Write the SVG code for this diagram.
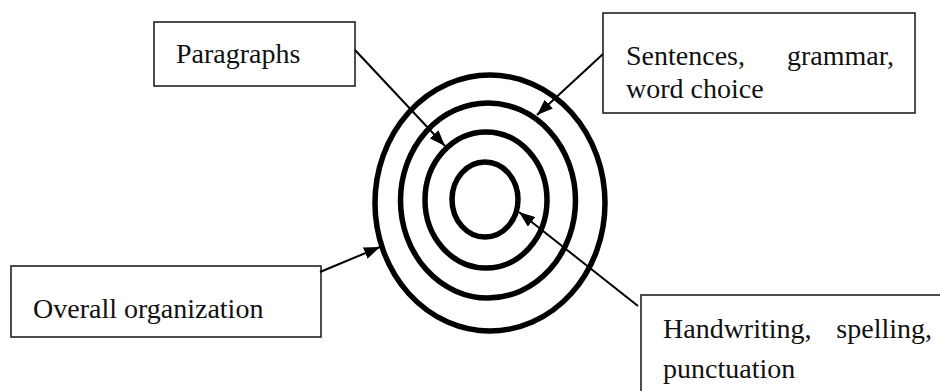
<svg xmlns="http://www.w3.org/2000/svg" width="940" height="391" viewBox="0 0 940 391">
<style>
.box{fill:#fff;stroke:#222;stroke-width:1.6}
.ring{fill:none;stroke:#000;stroke-width:5.5}
.lbl{font-family:"Liberation Serif","Times New Roman",serif;font-size:28px;fill:#111}
.conn{stroke:#000;stroke-width:2;fill:none;marker-end:url(#ah)}
</style>
<defs>
<marker id="ah" viewBox="0 0 16 12" refX="16" refY="6" markerWidth="16" markerHeight="12" markerUnits="userSpaceOnUse" orient="auto">
<path d="M0,0 L16,6 L0,12 z" fill="#000"/>
</marker>
</defs>
<rect width="940" height="391" fill="#fff"/>
<g id="target">
<ellipse class="ring" cx="490" cy="203" rx="115" ry="128"/>
<ellipse class="ring" cx="488" cy="200.5" rx="87.5" ry="97.5"/>
<ellipse class="ring" cx="486" cy="200" rx="61" ry="68"/>
<ellipse class="ring" cx="485" cy="199.5" rx="33" ry="37.5"/>
</g>
<g id="paragraphs">
<rect class="box" x="154" y="22" width="201" height="64"/>
<text class="lbl" x="176" y="63">Paragraphs</text>
</g>
<g id="sentences">
<rect class="box" x="603" y="13" width="312" height="100"/>
<text class="lbl" x="626" y="65">Sentences,</text>
<text class="lbl" x="894" y="65" text-anchor="end">grammar,</text>
<text class="lbl" x="626" y="98">word choice</text>
</g>
<g id="overall">
<rect class="box" x="11" y="266" width="310" height="71"/>
<text class="lbl" x="33" y="318">Overall organization</text>
</g>
<g id="handwriting">
<rect class="box" x="641" y="295" width="310" height="110"/>
<text class="lbl" x="663" y="338">Handwriting,</text>
<text class="lbl" x="932" y="338" text-anchor="end">spelling,</text>
<text class="lbl" x="663" y="378">punctuation</text>
</g>
<g id="connectors">
<line class="conn" x1="355" y1="50" x2="445" y2="146"/>
<line class="conn" x1="603" y1="54" x2="537" y2="115"/>
<line class="conn" x1="320" y1="272" x2="380" y2="247"/>
<line class="conn" x1="638" y1="306" x2="519" y2="212"/>
</g>
</svg>
